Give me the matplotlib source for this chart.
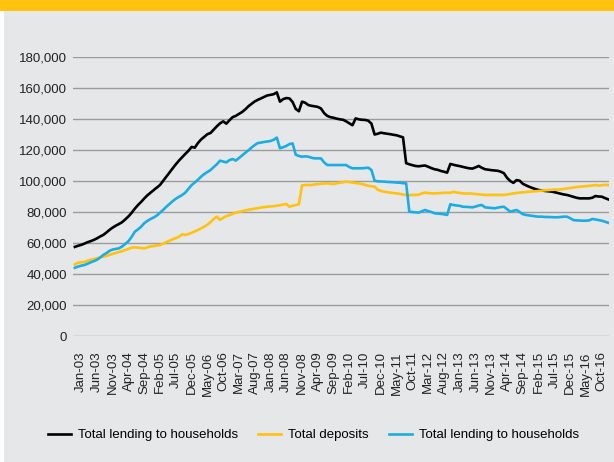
import matplotlib

matplotlib.use("Agg")
import matplotlib.pyplot as plt
import numpy as np
from matplotlib.patches import Rectangle

plt.rcParams["font.family"] = ["Liberation Sans", "DejaVu Sans"]

# monthly series, Nov-02 .. Dec-16 (thousands)
lending_a = [
    57.5, 58.2,
    58.8, 59.6, 60.5, 61.2, 62.0, 63.0, 64.2, 65.2, 66.8, 68.5, 70.0, 71.2,
    72.3, 73.5, 75.3, 77.2, 79.5, 82.2, 84.5, 86.5, 88.8, 90.8, 92.5, 94.2,
    95.8, 97.5, 100.2, 102.8, 105.5, 108.2, 110.8, 113.2, 115.4, 117.5, 119.5, 122.0,
    121.5, 124.5, 126.8, 128.5, 130.2, 131.0, 133.2, 135.3, 137.2, 138.5, 137.0, 139.2,
    141.2, 142.0, 143.3, 144.5, 146.2, 148.2, 149.8, 151.3, 152.4, 153.3, 154.3, 155.2,
    155.6, 156.0, 157.2, 151.2, 152.8, 153.5, 153.3, 151.0, 146.5, 145.0, 151.2, 150.5,
    149.0, 148.5, 148.2, 147.8, 146.8, 143.8, 142.0, 141.2, 140.8, 140.2, 139.8, 139.5,
    138.5, 137.2, 136.0, 140.4, 139.8, 139.5, 139.4, 138.9, 137.0, 130.0, 130.5, 131.2,
    130.8, 130.5, 130.2, 129.8, 129.5, 128.8, 128.2, 111.5, 110.8, 110.2, 109.7, 109.5,
    109.8, 110.0, 109.2, 108.3, 107.6, 107.2, 106.5, 106.0, 105.4, 111.0, 110.5, 110.0,
    109.6, 109.1, 108.6, 108.2, 108.0, 108.8, 109.7, 108.5, 107.6, 107.3, 107.0, 106.8,
    106.6, 106.0, 105.0, 102.0, 100.0, 98.8, 100.6, 100.2, 98.2, 97.2, 96.3, 95.5,
    94.8, 94.2, 93.9, 93.6, 93.4, 93.2, 92.8, 92.3, 91.8, 91.3, 91.0, 90.4,
    89.8, 89.2, 88.8, 88.8, 88.8, 88.8, 89.2, 90.3, 90.0, 89.9, 89.0, 88.2,
]
deposits = [
    46.2, 47.3,
    47.5, 47.8, 48.5, 49.2, 49.6, 50.2, 50.7, 51.2, 51.6, 52.4, 53.0, 53.6,
    54.2, 54.8, 55.5, 56.2, 57.0, 57.2, 57.0, 56.8, 56.5, 57.2, 57.8, 58.0,
    58.4, 58.7, 59.6, 60.6, 61.5, 62.4, 63.2, 64.0, 65.6, 65.2, 65.8, 66.6,
    67.5, 68.4, 69.5, 70.5, 71.8, 73.5, 75.5, 77.0, 75.0, 76.2, 77.4, 78.0,
    78.8, 79.6, 80.0, 80.5, 81.0, 81.5, 81.8, 82.1, 82.5, 82.9, 83.2, 83.4,
    83.6, 83.8, 84.0, 84.4, 84.8, 85.2, 83.4, 84.0, 84.5, 85.0, 97.2, 97.4,
    97.5, 97.4, 97.8, 98.0, 98.2, 98.4, 98.5, 98.3, 98.0, 98.6, 98.9, 99.2,
    99.6, 99.3, 99.0, 98.7, 98.5, 98.0, 97.5, 96.9, 96.6, 96.4, 94.4, 93.6,
    93.1, 92.8, 92.5, 92.2, 92.0, 91.7, 91.3, 91.0, 90.8, 91.0, 91.0, 91.2,
    92.0, 92.5, 92.2, 92.0, 92.0, 92.1, 92.2, 92.4, 92.4, 92.4, 93.0, 92.6,
    92.3, 92.0, 91.9, 92.0, 91.8, 91.6, 91.4, 91.2, 91.0, 91.0, 91.0, 91.0,
    91.0, 91.0, 91.0, 91.3, 91.6, 92.0, 92.3, 92.5, 92.7, 92.9, 93.1, 93.3,
    93.4, 93.6, 93.8, 94.0, 94.1, 94.3, 94.4, 94.5, 94.6, 94.9, 95.2, 95.5,
    95.8, 96.1, 96.3, 96.5, 96.7, 96.9, 97.1, 97.4, 97.0, 97.3, 97.5, 97.4,
]
lending_b = [
    44.0, 44.8,
    45.4, 45.8, 46.6, 47.5, 48.3, 49.2, 50.6, 52.3, 53.5, 55.0, 55.8, 56.2,
    56.6, 57.8, 59.5, 61.2, 64.0, 67.3, 68.8, 70.5, 72.8, 74.3, 75.5, 76.5,
    77.8, 79.6, 81.4, 83.4, 85.2, 87.0, 88.6, 89.8, 91.0, 92.5, 95.0, 97.4,
    99.0, 100.8, 102.8, 104.5, 105.8, 107.1, 109.0, 110.8, 113.1, 112.6, 112.0, 113.5,
    114.2, 113.2, 114.8, 116.5, 118.2, 119.8, 121.6, 123.2, 124.5, 124.8, 125.2, 125.5,
    125.8, 126.6, 128.0, 121.1, 121.8, 122.6, 123.8, 124.3, 117.0, 116.1, 115.7, 115.9,
    115.7, 115.0, 114.6, 114.6, 114.6, 112.0, 110.3, 110.3, 110.3, 110.3, 110.3, 110.3,
    110.3, 109.0, 108.2, 108.2, 108.2, 108.2, 108.4, 108.6, 107.1, 100.2, 99.8, 99.7,
    99.6, 99.4, 99.3, 99.2, 99.0, 98.9, 98.6, 98.5, 80.2, 80.0, 79.8, 79.6,
    80.5, 81.3, 80.6, 80.0, 79.2, 79.0, 78.8, 78.5, 78.1, 85.0, 84.5, 84.2,
    84.0, 83.4, 83.3, 83.2, 83.0, 83.5, 84.2, 84.5, 83.0, 82.8, 82.6, 82.4,
    82.8, 83.2, 83.4, 81.8, 80.2, 80.8, 81.3, 80.0, 78.6, 78.1, 77.8, 77.5,
    77.2, 77.0, 77.0, 76.8, 76.8, 76.7, 76.6, 76.6, 76.8, 77.0, 77.0, 76.0,
    74.8, 74.6, 74.5, 74.4, 74.4, 74.6, 75.5, 75.2, 74.8, 74.4, 73.8, 73.1,
]

tick_labels = [
    "Jan-03", "Jun-03", "Nov-03", "Apr-04", "Sep-04", "Feb-05", "Jul-05", "Dec-05",
    "May-06", "Oct-06", "Mar-07", "Aug-07", "Jan-08", "Jun-08", "Nov-08", "Apr-09",
    "Sep-09", "Feb-10", "Jul-10", "Dec-10", "May-11", "Oct-11", "Mar-12", "Aug-12",
    "Jan-13", "Jun-13", "Nov-13", "Apr-14", "Sep-14", "Feb-15", "Jul-15", "Dec-15",
    "May-16", "Oct-16",
]
first_tick = 2  # Jan-03 is the third month of the series
tick_step = 5

series = [
    ("Total lending to households", lending_a, "#000000"),
    ("Total deposits", deposits, "#FFC20E"),
    ("Total lending to households", lending_b, "#1AADE4"),
]

fig = plt.figure(figsize=(6.14, 4.62), dpi=100)
fig.patch.set_facecolor("white")
fig.add_artist(Rectangle((4 / 614, 0), 1, 1, transform=fig.transFigure,
                         facecolor="#E6E7E8", edgecolor="none", zorder=-2))
fig.add_artist(Rectangle((0, 1 - 11 / 462), 1, 11 / 462, transform=fig.transFigure,
                         facecolor="#FFC20E", edgecolor="none", zorder=-1))

ax = fig.add_axes([73 / 614, 0.2727, 536 / 614, 0.6039])
ax.set_facecolor("none")

for name, vals, col in series:
    x = np.arange(len(vals))
    ax.plot(x, np.array(vals) * 1000, color=col, lw=1.9, label=name, solid_joinstyle="round")

ax.set_xlim(-0.6, len(lending_a) - 0.7)
ax.set_ylim(0, 180000)
ax.set_yticks(np.arange(0, 180001, 20000))
ax.yaxis.set_major_formatter(matplotlib.ticker.FuncFormatter(lambda v, p: f"{int(v):,}"))
ax.set_xticks([first_tick + tick_step * k for k in range(len(tick_labels))])
ax.set_xticklabels(tick_labels, rotation=90)
ax.tick_params(axis="y", length=0, pad=4.5, labelsize=9.5, labelcolor="#222222")
ax.tick_params(axis="x", length=0, pad=11, labelsize=9.5, labelcolor="#222222")
ax.grid(True, axis="y", color="#9C9C9C", lw=1.0)
ax.set_axisbelow(True)
for s in ax.spines.values():
    s.set_visible(False)

fig.legend(loc="center", bbox_to_anchor=(0.511, 0.058), ncol=3, frameon=False,
           fontsize=9.5, handlelength=1.74, handletextpad=0.53, columnspacing=1.52)

fig.savefig("out.png", dpi=100, facecolor=fig.get_facecolor())
